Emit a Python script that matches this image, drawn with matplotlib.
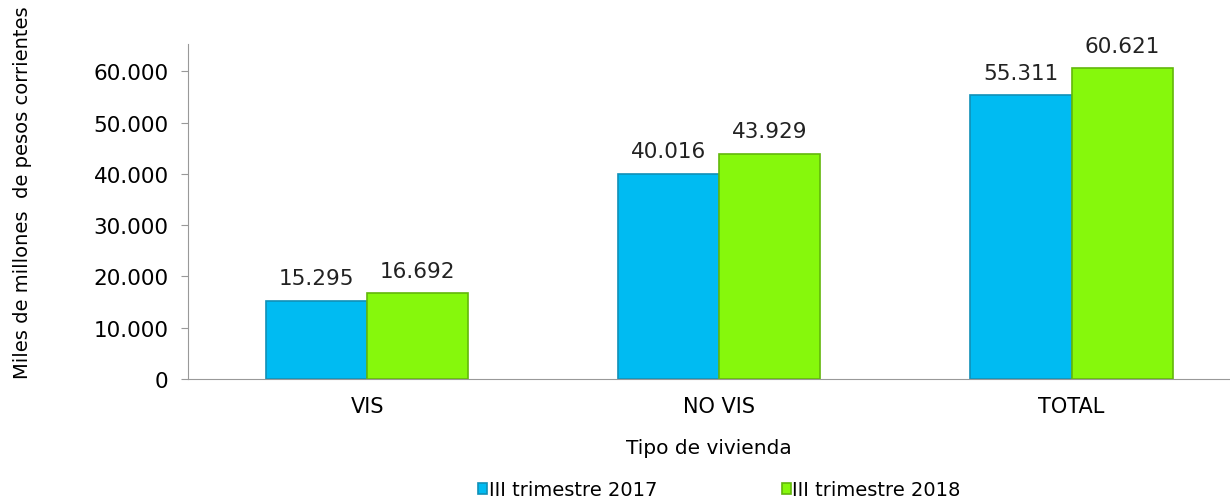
import matplotlib.pyplot as plt
import numpy as np
from matplotlib.ticker import FuncFormatter

plt.rcParams['font.family'] = ['DejaVu Sans']

categories = ["VIS", "NO VIS", "TOTAL"]
series_names = ["III trimestre 2017", "III trimestre 2018"]
vals_2017 = [15295, 40016, 55311]
vals_2018 = [16692, 43929, 60621]

fig = plt.figure(figsize=(12.3, 5.02), dpi=100)
ax = fig.add_axes([0.153, 0.243, 0.847, 0.667])

x = np.arange(len(categories))
w = 0.287
b1 = ax.bar(x - w / 2, vals_2017, w, color="#00BBF2", edgecolor="#1090B8",
            linewidth=1.2, label=series_names[0], zorder=2)
b2 = ax.bar(x + w / 2, vals_2018, w, color="#86F80C", edgecolor="#62B80A",
            linewidth=1.2, label=series_names[1], zorder=2)

def fmt(v):
    return f"{v:,.0f}".replace(",", ".")

for bars, vals in ((b1, vals_2017), (b2, vals_2018)):
    for r, v in zip(bars, vals):
        ax.annotate(fmt(v), (r.get_x() + r.get_width() / 2, v),
                    xytext=(0, 9), textcoords="offset points",
                    ha="center", va="bottom", fontsize=15.5, color="#222222")

ax.set_xlim(-0.508, 2.45)
ax.set_ylim(0, 65300)
ax.set_yticks(np.arange(0, 60001, 10000))
ax.yaxis.set_major_formatter(FuncFormatter(lambda v, p: fmt(v)))
ax.set_xticks(x)
ax.set_xticklabels(categories, fontsize=15)
ax.tick_params(axis="x", length=0, pad=12)
ax.tick_params(axis="y", labelsize=15.5, length=5, color="#999999", pad=9)

for s in ("top", "right"):
    ax.spines[s].set_visible(False)
ax.spines["left"].set_color("#999999")
ax.spines["bottom"].set_color("#999999")

ax.set_xlabel("Tipo de vivienda", fontsize=14.5, labelpad=16)
fig.text(0.018, 0.617, "Miles de millones  de pesos corrientes", rotation=90,
         ha="center", va="center", fontsize=14)

fig.legend(handles=[b1, b2], labels=series_names, loc="center",
           bbox_to_anchor=(0.585, 0.022), ncol=2, frameon=False, fontsize=14,
           handlelength=0.45, handleheight=0.45, handletextpad=0.1,
           columnspacing=6.4)

fig.savefig("out.png", dpi=100)
